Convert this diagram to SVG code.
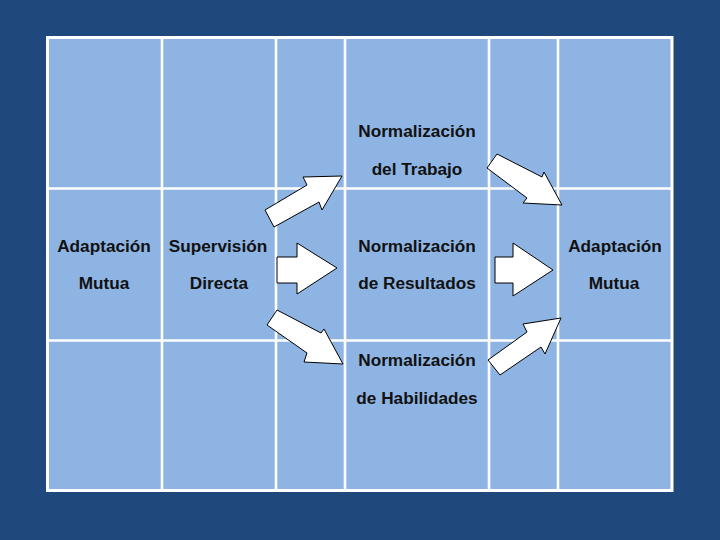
<svg xmlns="http://www.w3.org/2000/svg" width="720" height="540" viewBox="0 0 720 540">
<style>
.grid{stroke:#FFFFFF;stroke-width:2.6;fill:none}
.arrow{fill:#FFFFFF;stroke:#000000;stroke-width:1;stroke-linejoin:miter}
.lbl{font-family:"Liberation Sans",Arial,sans-serif;font-size:17.2px;font-weight:bold;fill:#111111;text-anchor:middle}
</style>
<rect x="0" y="0" width="720" height="540" fill="#1F497D"/>
<g id="table">
<rect x="47.5" y="37.5" width="624.5" height="453" fill="#8EB4E3" stroke="#FFFFFF" stroke-width="3"/>
<path class="grid" d="M162,37V491M276,37V491M345,37V491M489,37V491M558,37V491M47,188.5H672M47,340.5H672"/>
</g>
<g id="node-adaptacion-izq"><text class="lbl" x="104" y="252">Adaptación</text><text class="lbl" x="104" y="289">Mutua</text></g>
<g id="node-supervision"><text class="lbl" x="218" y="252">Supervisión</text><text class="lbl" x="219" y="289">Directa</text></g>
<g id="node-trabajo"><text class="lbl" x="417" y="137">Normalización</text><text class="lbl" x="417" y="175">del Trabajo</text></g>
<g id="node-resultados"><text class="lbl" x="417" y="252">Normalización</text><text class="lbl" x="417" y="289">de Resultados</text></g>
<g id="node-habilidades"><text class="lbl" x="417" y="366">Normalización</text><text class="lbl" x="417" y="404">de Habilidades</text></g>
<g id="node-adaptacion-der"><text class="lbl" x="615" y="252">Adaptación</text><text class="lbl" x="614" y="289">Mutua</text></g>
<g id="connectors">
<polygon class="arrow" points="265,210 307,185 303,177 342,176 322,210 319,202 274,227"/>
<polygon class="arrow" points="277,257 297,257 297,243 337,268 297,294 297,283 277,283"/>
<polygon class="arrow" points="277,310 321,333 324,329 343,364 304,362 307,353 267,325"/>
<polygon class="arrow" points="497,154 542,177 544,172 562,205 523,203 527,198 487,168"/>
<polygon class="arrow" points="495,257 513,257 513,243 553,270 513,296 513,283 495,283"/>
<polygon class="arrow" points="488,360 527,332 523,324 561,318 545,354 541,347 500,375"/>
</g>
</svg>
